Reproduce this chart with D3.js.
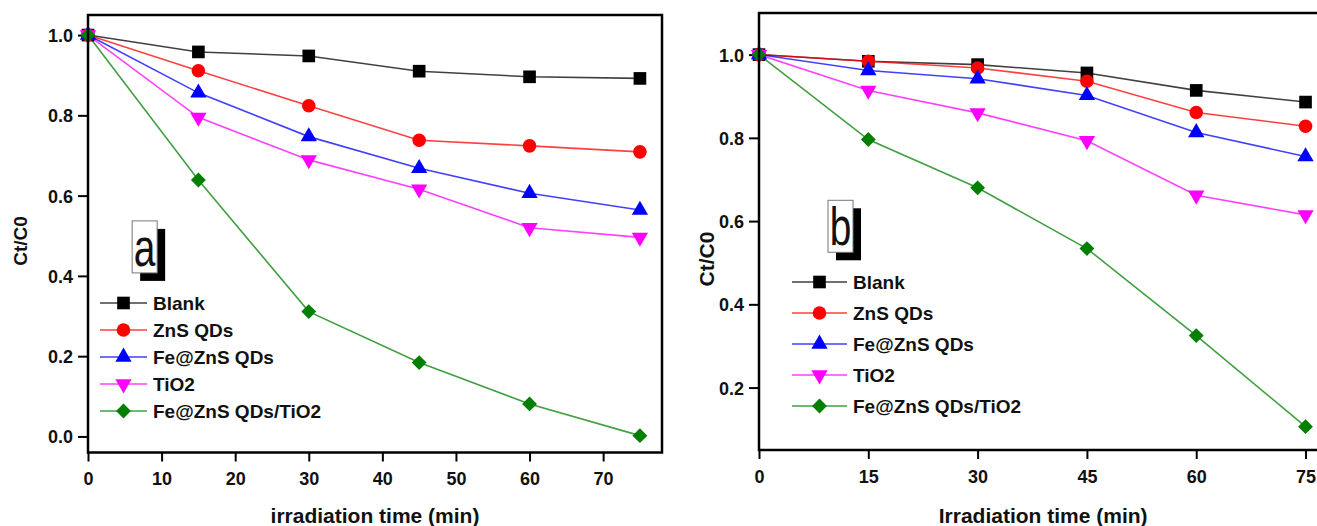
<!DOCTYPE html>
<html>
<head>
<meta charset="utf-8">
<script src="https://cdn.jsdelivr.net/npm/d3@7"></script>
<style>
  body { margin: 0; background: #fff; }
  svg { display: block; font-family: Arial, "Liberation Sans", sans-serif; }
  .tick text { font-family: Arial, "Liberation Sans", sans-serif; font-size: 18px; font-weight: bold; fill: #111; }
  .tick line { stroke: #000; stroke-width: 2; }
</style>
</head>
<body>
<script>
const width = 1317;
const height = 526;

// data
const timeMin = [0, 15, 30, 45, 60, 75];
const seriesNames = ["Blank", "ZnS QDs", "Fe@ZnS QDs", "TiO2", "Fe@ZnS QDs/TiO2"];
const seriesColors = ["#000000", "#ff0000", "#0000ff", "#ff00ff", "#007f00"];

const aBlank = [1.0, 0.958, 0.948, 0.910, 0.896, 0.892];
const aZnS = [1.0, 0.911, 0.824, 0.738, 0.724, 0.709];
const aFeZnS = [1.0, 0.856, 0.747, 0.668, 0.606, 0.564];
const aTiO2 = [1.0, 0.795, 0.689, 0.616, 0.520, 0.496];
const aFeZnSTiO2 = [1.0, 0.639, 0.311, 0.184, 0.081, 0.002];

const bBlank = [1.0, 0.984, 0.976, 0.956, 0.914, 0.886];
const bZnS = [1.0, 0.984, 0.968, 0.936, 0.861, 0.828];
const bFeZnS = [1.0, 0.962, 0.942, 0.902, 0.813, 0.755];
const bTiO2 = [1.0, 0.914, 0.860, 0.793, 0.662, 0.615];
const bFeZnSTiO2 = [1.0, 0.796, 0.680, 0.534, 0.325, 0.106];

const aTicksX = [0, 10, 20, 30, 40, 50, 60, 70];
const bTicksX = [0, 15, 30, 45, 60, 75];
const aTicksY = [0.0, 0.2, 0.4, 0.6, 0.8, 1.0];
const bTicksY = [0.2, 0.4, 0.6, 0.8, 1.0];

const symbols = [
  {type: d3.symbolSquare, size: 160, rot: 0},
  {type: d3.symbolCircle, size: 145, rot: 0},
  {type: d3.symbolTriangle, size: 115, rot: 0},
  {type: d3.symbolTriangle, size: 115, rot: 180},
  {type: d3.symbolSquare, size: 110, rot: 45}
];

const svg = d3.select("body")
  .append("svg")
  .attr("width", width)
  .attr("height", height);

const panels = [
  {
    series: [aBlank, aZnS, aFeZnS, aTiO2, aFeZnSTiO2],
    x: d3.scaleLinear().domain([0, 78]).range([88, 662]),
    y: d3.scaleLinear().domain([-0.04, 1.05]).range([452.5, 15]),
    ticksX: aTicksX, ticksY: aTicksY,
    xTitle: "irradiation time (min)", xTitleY: 523,
    yTitleX: 27, yTitleY: 241, yTitleSize: 19,
    letter: "a", letterAt: [6, 0.537],
    legend: {x: 100, y: 303, step: 27, len: 47}
  },
  {
    series: [bBlank, bZnS, bFeZnS, bTiO2, bFeZnSTiO2],
    x: d3.scaleLinear().domain([0, 78]).range([759, 1327.4]),
    y: d3.scaleLinear().domain([0.05, 1.1]).range([450, 13]),
    ticksX: bTicksX, ticksY: bTicksY,
    xTitle: "Irradiation time (min)", xTitleY: 523,
    yTitleX: 714, yTitleY: 259, yTitleSize: 21,
    letter: "b", letterAt: [9.47, 0.65],
    legend: {x: 792, y: 282, step: 31, len: 55}
  }
];

panels.forEach((p) => {
  const g = svg.append("g");
  const [x0, x1] = p.x.range();
  const [y0, y1] = p.y.range();

  // axes
  g.append("g")
    .attr("transform", "translate(0," + y0 + ")")
    .call(d3.axisBottom(p.x).tickValues(p.ticksX).tickSize(9).tickPadding(11).tickFormat(d3.format("d")))
    .call((a) => a.select(".domain").remove());

  g.append("g")
    .attr("transform", "translate(" + x0 + ",0)")
    .call(d3.axisLeft(p.y).tickValues(p.ticksY).tickSize(10).tickPadding(5).tickFormat(d3.format(".1f")))
    .call((a) => a.select(".domain").remove())
    .selectAll(".tick text").attr("dy", "0.36em");

  // label box with shadow
  const lx = p.x(p.letterAt[0]);
  const ly = p.y(p.letterAt[1]);
  g.append("rect")
    .attr("x", lx + 8).attr("y", ly + 8)
    .attr("width", 25).attr("height", 52)
    .attr("fill", "#000");
  g.append("rect")
    .attr("x", lx).attr("y", ly)
    .attr("width", 25).attr("height", 52)
    .attr("fill", "#fff")
    .attr("stroke", "#777").attr("stroke-width", 1);
  g.append("text")
    .attr("transform", "translate(" + (lx + 12.5) + "," + (ly + 45) + ") scale(0.72,1)")
    .attr("text-anchor", "middle")
    .style("font-size", "54px")
    .style("fill", "#111")
    .text(p.letter);

  // lines and markers
  const line = d3.line()
    .x((d, i) => p.x(timeMin[i]))
    .y((d) => p.y(d));

  p.series.forEach((s, k) => {
    g.append("path")
      .datum(s)
      .attr("fill", "none")
      .attr("stroke", seriesColors[k])
      .attr("stroke-opacity", 0.75)
      .attr("stroke-width", 1.6)
      .attr("d", line);
  });

  p.series.forEach((s, k) => {
    const sym = d3.symbol().type(symbols[k].type).size(symbols[k].size);
    g.selectAll(null)
      .data(s)
      .enter()
      .append("path")
      .attr("d", sym)
      .attr("fill", seriesColors[k])
      .attr("transform", (d, i) => "translate(" + p.x(timeMin[i]) + "," + p.y(d) + ") rotate(" + symbols[k].rot + ")");
  });

  // legend
  const lg = g.append("g");
  seriesNames.forEach((name, k) => {
    const yy = p.legend.y + k * p.legend.step;
    lg.append("line")
      .attr("x1", p.legend.x).attr("x2", p.legend.x + p.legend.len)
      .attr("y1", yy).attr("y2", yy)
      .attr("stroke", seriesColors[k])
      .attr("stroke-opacity", 0.75)
      .attr("stroke-width", 1.6);
    lg.append("path")
      .attr("d", d3.symbol().type(symbols[k].type).size(symbols[k].size)())
      .attr("fill", seriesColors[k])
      .attr("transform", "translate(" + (p.legend.x + p.legend.len / 2) + "," + yy + ") rotate(" + symbols[k].rot + ")");
    lg.append("text")
      .attr("x", p.legend.x + p.legend.len + 6)
      .attr("y", yy)
      .attr("dy", "0.36em")
      .style("font-size", "19px")
      .style("font-weight", "bold")
      .style("fill", "#111")
      .text(name);
  });

  // frame
  g.append("rect")
    .attr("x", x0).attr("y", y1)
    .attr("width", x1 - x0).attr("height", y0 - y1)
    .attr("fill", "none")
    .attr("stroke", "#000")
    .attr("stroke-width", 2.5);

  // titles
  g.append("text")
    .attr("x", (x0 + x1) / 2)
    .attr("y", p.xTitleY)
    .attr("text-anchor", "middle")
    .style("font-size", "21px")
    .style("font-weight", "bold")
    .style("fill", "#111")
    .text(p.xTitle);

  g.append("text")
    .attr("transform", "translate(" + p.yTitleX + "," + p.yTitleY + ") rotate(-90)")
    .attr("text-anchor", "middle")
    .style("font-size", p.yTitleSize + "px")
    .style("font-weight", "bold")
    .style("fill", "#111")
    .text("Ct/C0");
});
</script>
</body>
</html>
